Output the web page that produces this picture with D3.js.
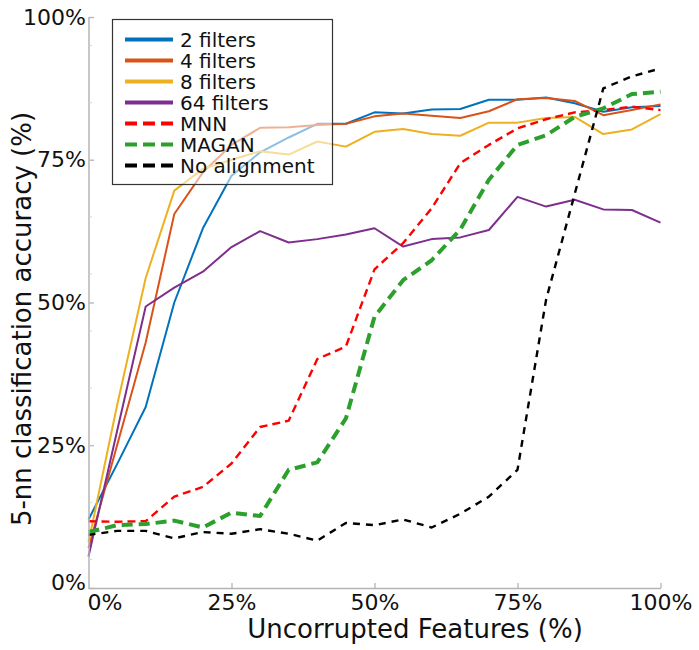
<!DOCTYPE html>
<html>
<head>
<meta charset="utf-8">
<script src="https://cdn.jsdelivr.net/npm/d3@7/dist/d3.min.js"></script>
<style>
  html, body { margin: 0; padding: 0; background: #fff; }
  svg { display: block; font-family: "DejaVu Sans", Verdana, sans-serif; }
</style>
</head>
<body>
<svg id="chart" width="699" height="650"></svg>
<script>
// Percentage of uncorrupted features (x) for every measurement
const uncorrupted = [0, 5, 10, 15, 20, 25, 30, 35, 40, 45, 50, 55, 60, 65, 70, 75, 80, 85, 90, 95, 100];

// 5-nn classification accuracy (%) per method
const filters2  = [12, 21.7, 31.7, 50, 63, 72.2, 76.3, 78.9, 81.3, 81.3, 83.3, 83.1, 83.8, 83.9, 85.5, 85.5, 85.9, 84.9, 83.4, 84.2, 84.4];
const filters4  = [7, 25, 43, 65.5, 72.8, 77.6, 80.6, 80.7, 81.1, 81.3, 82.6, 83.1, 82.7, 82.3, 83.5, 85.6, 85.8, 85.3, 82.8, 83.7, 84.7];
const filters8  = [8, 32, 54.3, 69.6, 73.4, 75, 76.5, 75.9, 78.2, 77.3, 79.9, 80.4, 79.5, 79.2, 81.5, 81.5, 82.3, 82.5, 79.5, 80.3, 83];
const filters64 = [5.5, 27.5, 49.3, 52.6, 55.4, 59.7, 62.5, 60.5, 61.1, 61.9, 63, 59.8, 61.1, 61.4, 62.7, 68.5, 66.8, 68, 66.3, 66.2, 64];
const mnn       = [11.7, 11.6, 11.7, 16, 17.7, 21.8, 28.2, 29.3, 40.1, 42.3, 55.8, 60.4, 66.5, 74.4, 77.6, 80.5, 82.1, 83.3, 83.7, 84.3, 83.7];
const magan     = [9.8, 11, 11.2, 11.8, 10.6, 13.2, 12.6, 20.7, 22, 29.7, 47.5, 53.9, 57.4, 62.8, 71.5, 77.6, 79.3, 82.5, 84, 86.5, 86.9];
const noAlign   = [9.3, 10, 10, 8.7, 9.8, 9.5, 10.3, 9.5, 8.3, 11.4, 11, 12, 10.6, 13, 16, 20.7, 50.5, 69, 87.5, 89.6, 91];

const seriesNames = ["2 filters", "4 filters", "8 filters", "64 filters", "MNN", "MAGAN", "No alignment"];
const xTicks = [0, 25, 50, 75, 100];
const yTicks = [0, 25, 50, 75, 100];
const yMinorTicks = [5, 15, 25, 35, 45, 55, 65, 75, 85, 95];

const series = [
  { name: seriesNames[0], values: filters2,  color: "#0072BD", width: 2,   dash: null },
  { name: seriesNames[1], values: filters4,  color: "#D95319", width: 2,   dash: null },
  { name: seriesNames[2], values: filters8,  color: "#EDB120", width: 2,   dash: null },
  { name: seriesNames[3], values: filters64, color: "#7E2F8E", width: 2,   dash: null },
  { name: seriesNames[4], values: mnn,       color: "#FF0000", width: 2.4, dash: "8,5" },
  { name: seriesNames[5], values: magan,     color: "#2CA02C", width: 4,   dash: "11,6" },
  { name: seriesNames[6], values: noAlign,   color: "#000000", width: 2.4, dash: "7,6" }
];

const svg = d3.select("#chart");
const x = d3.scaleLinear().domain([0, 100]).range([88.5, 660.5]);
const y = d3.scaleLinear().domain([0, 100]).range([588, 17]);
const axisColor = "#b4b4b4";
const pct = d => d + "%";

// Data lines
const line = d3.line().x((d, i) => x(uncorrupted[i])).y(d => y(d));
const plot = svg.append("g");
series.forEach(s => {
  plot.append("path")
    .datum(s.values)
    .attr("d", line)
    .attr("fill", "none")
    .attr("stroke", s.color)
    .attr("stroke-width", s.width)
    .attr("stroke-dasharray", s.dash)
    .attr("stroke-linejoin", "round");
});

// Y axis with inward ticks
const yAxis = svg.append("g")
  .attr("transform", `translate(${x(0) + 0.5},0)`)
  .call(d3.axisLeft(y).tickValues(yTicks).tickFormat(pct).tickSizeInner(-5).tickSizeOuter(0).tickPadding(3));
yAxis.select(".domain").attr("stroke", axisColor).attr("stroke-width", 1.5)
  .attr("d", `M0,${y(100)}V${y(0) + 1}`);
yAxis.selectAll(".tick line").attr("stroke", axisColor).attr("stroke-width", 1.3);
yAxis.selectAll(".tick text").attr("font-size", 22).attr("fill", "#111")
  .attr("font-family", "DejaVu Sans").attr("x", -3);
yAxis.selectAll(".tick").filter(d => d === 0).select("text").attr("dy", "0.05em");

// faint minor ticks on the y axis
yAxis.selectAll(".minor").data(yMinorTicks).enter().append("line")
  .attr("class", "minor")
  .attr("x1", 0).attr("x2", 3)
  .attr("y1", d => y(d)).attr("y2", d => y(d))
  .attr("stroke", "#d4d4d4").attr("stroke-width", 1);

// X axis with inward ticks
const xAxis = svg.append("g")
  .attr("transform", `translate(0,${y(0)})`)
  .call(d3.axisBottom(x).tickValues(xTicks).tickFormat(pct).tickSizeInner(-5).tickSizeOuter(0).tickPadding(4));
xAxis.select(".domain").attr("stroke", axisColor).attr("stroke-width", 1.5);
xAxis.selectAll(".tick line").attr("stroke", axisColor).attr("stroke-width", 1.3);
xAxis.selectAll(".tick text").attr("font-size", 22).attr("fill", "#111")
  .attr("font-family", "DejaVu Sans").attr("y", 6);
xAxis.selectAll(".tick").filter(d => d === 0).select("text").attr("dx", 16);
xAxis.selectAll(".tick").filter(d => d === 0).select("line").remove();

// Axis titles
svg.append("text")
  .attr("x", 415).attr("y", 638)
  .attr("text-anchor", "middle")
  .attr("font-size", 26).attr("fill", "#111")
  .text("Uncorrupted Features (%)");
svg.append("text")
  .attr("transform", "translate(31,319) rotate(-90)")
  .attr("text-anchor", "middle")
  .attr("font-size", 26).attr("fill", "#111")
  .text("5-nn classification accuracy (%)");

// Legend: translucent white box over the lines
const legend = svg.append("g");
legend.append("rect")
  .attr("x", 112.5).attr("y", 19.5).attr("width", 220).attr("height", 165)
  .attr("fill", "#fff").attr("fill-opacity", 0.55)
  .attr("stroke", "#333").attr("stroke-width", 1.2);
series.forEach((s, i) => {
  const cy = 39.5 + i * 21;
  legend.append("line")
    .attr("x1", 125).attr("x2", 173).attr("y1", cy).attr("y2", cy)
    .attr("stroke", s.color).attr("stroke-width", 4)
    .attr("stroke-dasharray", s.dash ? "12,6" : null);
  legend.append("text")
    .attr("x", 180).attr("y", cy)
    .attr("dy", "0.36em")
    .attr("font-size", 20).attr("fill", "#111")
    .text(s.name);
});
</script>
</body>
</html>
